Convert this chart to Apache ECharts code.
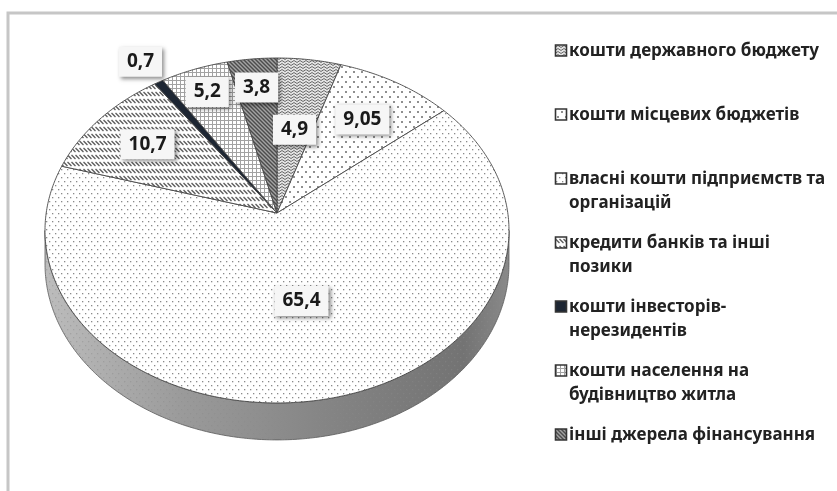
<!DOCTYPE html>
<html><head><meta charset="utf-8">
<script src="https://cdn.jsdelivr.net/npm/echarts@6/dist/echarts.min.js"></script>
<style>html,body{margin:0;padding:0;background:#fff}#c{width:837px;height:491px}</style>
</head><body><div id="c"></div>
<script>
// ---------- data ----------
const categories = [
  'кошти державного бюджету',
  'кошти місцевих бюджетів',
  'власні кошти підприємств та організацій',
  'кредити банків та інші позики',
  'кошти інвесторів-нерезидентів',
  'кошти населення на будівництво житла',
  'інші джерела фінансування'
];
const legendLines = [
  ['кошти державного бюджету'],
  ['кошти місцевих бюджетів'],
  ['власні кошти підприємств та', 'організацій'],
  ['кредити банків та інші', 'позики'],
  ['кошти інвесторів-', 'нерезидентів'],
  ['кошти населення на', 'будівництво житла'],
  ['інші джерела фінансування']
];
const values = [4.9, 9.05, 65.4, 10.7, 0.7, 5.2, 3.8];

// ---------- layout (not data) ----------
const CX = 277, CY = 213, A = 230.8, B = 170.7, K = 0.1014, D0 = 33.2;
const labelRadius = [0.52, 0.7, 0.5, 0.72, 1.17, 0.83, 0.8];
const FONT = '"Noto Sans", "DejaVu Sans", sans-serif';

// ---------- patterns ----------
function canvasOf(w, h, bg, ink) {
  const c = document.createElement('canvas'); c.width = w; c.height = h;
  const g = c.getContext('2d');
  if (bg) { g.fillStyle = bg; g.fillRect(0, 0, w, h); }
  ink(g, w, h);
  return c;
}
const patternDefs = [
  { // state budget: dense wavy grey
    w: 6, h: 3, bg: '#e4e4e4', ink: (g) => {
      g.strokeStyle = '#6a6a6a'; g.lineWidth = 1;
      g.beginPath(); g.moveTo(0, 0.5); g.lineTo(3, 2.5); g.lineTo(6, 0.5); g.stroke();
    }
  },
  { // local budgets: sparse coarse dots
    w: 8, h: 10, bg: '#ffffff', ink: (g) => {
      g.fillStyle = '#8f8f8f';
      g.fillRect(1, 1, 2, 2); g.fillRect(5, 6, 2, 2);
    }
  },
  { // own funds: fine dots
    w: 6, h: 8, bg: '#ffffff', ink: (g) => {
      g.fillStyle = '#8a8a8a';
      g.fillRect(1, 1, 1.3, 1.3); g.fillRect(4, 5, 1.3, 1.3);
    }
  },
  { // credits: rows of short diagonal strokes
    w: 4, h: 7, bg: '#ffffff', ink: (g) => {
      g.strokeStyle = '#5e5e5e'; g.lineWidth = 1.3;
      g.beginPath(); g.moveTo(-0.5, 1); g.lineTo(3.5, 5); g.stroke();
      g.beginPath(); g.moveTo(3.5, 1); g.lineTo(7.5, 5); g.stroke();
    }
  },
  { // investors: solid dark
    w: 4, h: 4, bg: '#1d2633', ink: () => {}
  },
  { // population: small grid
    w: 4, h: 4, bg: '#ffffff', ink: (g) => {
      g.fillStyle = '#a2a2a2';
      g.fillRect(0, 0, 4, 1); g.fillRect(0, 0, 1, 4);
    }
  },
  { // other: dark diagonal hatch
    w: 4, h: 4, bg: '#a3a3a3', ink: (g) => {
      g.strokeStyle = '#4c4c4c'; g.lineWidth = 1.4;
      g.beginPath(); g.moveTo(-1, -1); g.lineTo(5, 5); g.stroke();
      g.beginPath(); g.moveTo(-1, 3); g.lineTo(1, 5); g.stroke();
      g.beginPath(); g.moveTo(3, -1); g.lineTo(5, 1); g.stroke();
    }
  }
];
const facePatterns = patternDefs.map(d => ({ image: canvasOf(d.w, d.h, d.bg, d.ink), repeat: 'repeat' }));
const wallPatterns = patternDefs.map(d => ({
  image: canvasOf(d.w, d.h, d.bg === '#ffffff' ? null : d.bg, (g, w, h) => { g.globalAlpha = 0.8; d.ink(g, w, h); }),
  repeat: 'repeat'
}));

// ---------- geometry from data ----------
const total = values.reduce((s, v) => s + v, 0);
const starts = [], ends = [];
values.reduce((acc, v, i) => { starts[i] = acc / total * 2 * Math.PI; ends[i] = (acc + v) / total * 2 * Math.PI; return acc + v; }, 0);

function pt(r, th) {
  const u = r * Math.sin(th), v = -r * Math.cos(th);
  const f = 1 / (1 - K * v);
  return [CX + A * u * f, CY + B * v * f];
}
function arc(a0, a1) {
  const n = Math.max(2, Math.ceil((a1 - a0) / 0.01));
  const out = [];
  for (let j = 0; j <= n; j++) out.push(pt(1, a0 + (a1 - a0) * j / n));
  return out;
}
const FRONT0 = Math.acos(-K), FRONT1 = 2 * Math.PI - Math.acos(-K);

const wallGradient = {
  type: 'linear', global: true, x: CX - A * 1.01, y: 0, x2: CX + A * 1.01, y2: 0,
  colorStops: [
    { offset: 0, color: '#bdbdbd' }, { offset: 0.3, color: '#9a9a9a' },
    { offset: 0.6, color: '#858585' }, { offset: 0.9, color: '#737373' }, { offset: 1, color: '#8a8a8a' }
  ]
};

function renderWall(params, api) {
  const i = params.dataIndex;
  const a0 = Math.max(starts[i], FRONT0), a1 = Math.min(ends[i], FRONT1);
  if (a1 <= a0) return { type: 'group', children: [] };
  const top = arc(a0, a1);
  const bottom = top.map((p, j) => {
    const th = a0 + (a1 - a0) * j / (top.length - 1);
    const f = 1 / (1 + K * Math.cos(th));
    return [p[0], p[1] + D0 * f];
  }).reverse();
  const poly = top.concat(bottom);
  return {
    type: 'group', children: [
      { type: 'polygon', shape: { points: poly }, style: { fill: wallGradient, stroke: '#5a5a5a', lineWidth: 0.8 } },
      { type: 'polygon', shape: { points: poly }, style: { fill: wallPatterns[i], opacity: 0.55 } }
    ]
  };
}
function renderFace(params, api) {
  const i = params.dataIndex;
  const pts = [[CX, CY]].concat(arc(starts[i], ends[i]));
  return { type: 'polygon', shape: { points: pts }, style: { fill: facePatterns[i], stroke: '#474747', lineWidth: 0.9, lineJoin: 'round' } };
}
function renderLabel(params, api) {
  const i = params.dataIndex;
  const mid = (starts[i] + ends[i]) / 2;
  const p = pt(labelRadius[i], mid);
  return {
    type: 'text', x: p[0], y: p[1],
    style: {
      text: String(api.value(0)).replace('.', ','),
      fontFamily: FONT, fontWeight: 'bold', fontSize: 19, fill: '#1a1a1a',
      align: 'center', verticalAlign: 'middle',
      backgroundColor: '#f6f6f6', padding: [6, 8, 5, 8],
      shadowBlur: 4, shadowOffsetX: 2, shadowOffsetY: 2, shadowColor: 'rgba(0,0,0,0.45)'
    }
  };
}

// ---------- legend (graphic, built from category lines) ----------
const legendGraphics = [];
legendLines.forEach((lines, i) => {
  const y0 = 51 + 64 * i;
  legendGraphics.push({
    type: 'rect', shape: { x: 555.5, y: y0 - 6, width: 11, height: 11 },
    style: { fill: facePatterns[i], stroke: '#353535', lineWidth: 1.6 }
  });
  lines.forEach((t, j) => {
    legendGraphics.push({
      type: 'text', x: 569, y: y0 + 24 * j,
      style: { text: t, fontFamily: FONT, fontWeight: 'bold', fontSize: 17, fill: '#222222', verticalAlign: 'middle' }
    });
  });
});

const chart = echarts.init(document.getElementById('c'), null, { renderer: 'canvas' });
chart.setOption({
  backgroundColor: '#ffffff',
  animation: false,
  graphic: [
    { type: 'rect', z: -10, shape: { x: 8, y: 13, width: 900, height: 600 }, style: { fill: 'none', stroke: '#c6c6c6', lineWidth: 3 } }
  ].concat(legendGraphics),
  series: [
    { type: 'custom', name: 'wall', coordinateSystem: 'none', z: 1, data: values, renderItem: renderWall, silent: true },
    { type: 'custom', name: 'faces', coordinateSystem: 'none', z: 2, data: values, renderItem: renderFace, silent: true },
    { type: 'custom', name: 'labels', coordinateSystem: 'none', z: 3, data: values, renderItem: renderLabel, silent: true }
  ]
});
</script>
</body></html>
